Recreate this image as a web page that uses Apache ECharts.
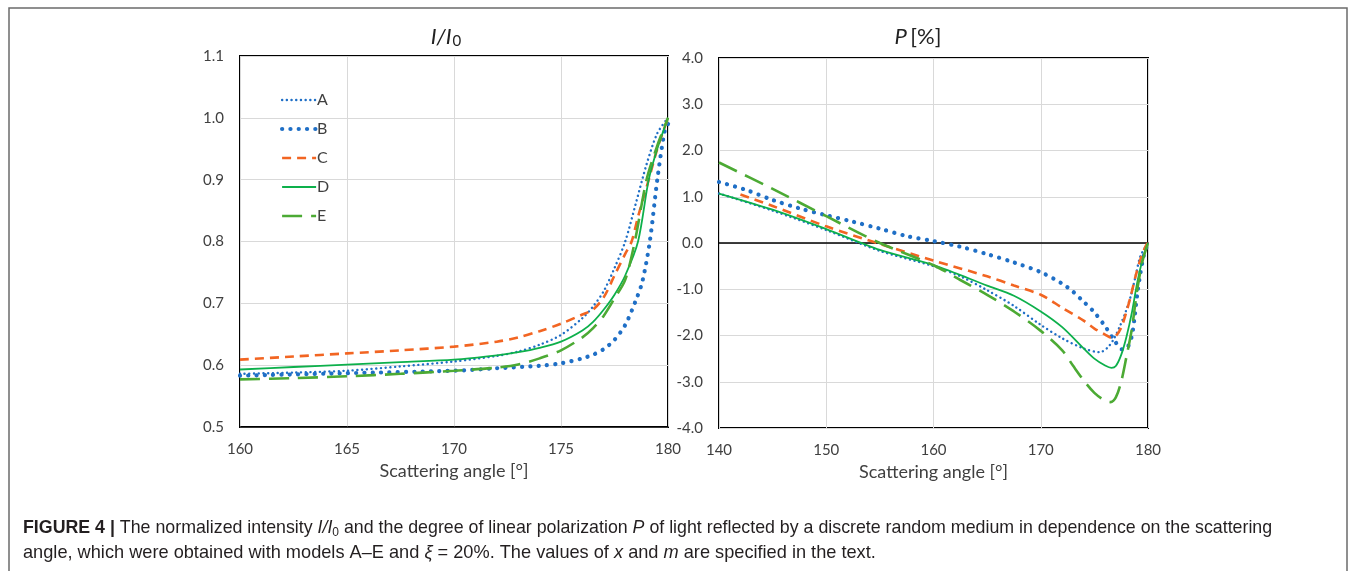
<!DOCTYPE html>
<html><head><meta charset="utf-8">
<script src="https://cdn.jsdelivr.net/npm/echarts@6/dist/echarts.min.js"></script>
<style>html,body{margin:0;padding:0;background:#fff}#c{width:1355px;height:571px}</style>
</head><body><div id="c"></div>
<script>
// ---- data ----
const seriesNames = ['A', 'B', 'C', 'D', 'E'];
const xTicksLeft = [160, 165, 170, 175, 180];
const xTicksRight = [140, 150, 160, 170, 180];

// Left panel: normalized intensity I/I0 vs scattering angle
const intA = [[160,0.586],[162.5,0.588],[165,0.591],[167.5,0.598],[170,0.606],[172,0.615],[173,0.622],[174,0.633],[175,0.649],[176,0.676],[176.5,0.695],[177,0.72],[177.5,0.757],[178,0.80],[178.5,0.862],[179,0.925],[179.5,0.975],[180,1.0]];
const intB = [[160,0.583],[165,0.587],[170,0.591],[172,0.595],[174,0.599],[175,0.603],[176,0.611],[176.5,0.617],[177,0.626],[177.5,0.641],[178,0.665],[178.5,0.705],[178.8,0.735],[179.15,0.80],[179.5,0.90],[179.85,0.98],[180,0.99]];
const intC = [[160,0.609],[162.5,0.614],[165,0.619],[167.5,0.624],[170,0.630],[172,0.638],[173,0.645],[174,0.655],[175,0.667],[176,0.682],[176.5,0.690],[177,0.710],[177.5,0.745],[178,0.78],[178.3,0.80],[178.6,0.84],[179.1,0.90],[179.5,0.95],[180,1.0]];
const intD = [[160,0.593],[162.5,0.597],[165,0.601],[167.5,0.605],[170,0.609],[172,0.616],[173,0.621],[174,0.628],[175,0.638],[176,0.656],[176.5,0.670],[177,0.690],[177.5,0.714],[178,0.745],[178.6,0.80],[179.1,0.90],[179.5,0.95],[180,1.0]];
const intE = [[160,0.577],[162.5,0.579],[165,0.582],[167.5,0.586],[170,0.591],[172,0.596],[173,0.601],[174,0.611],[175,0.624],[176,0.645],[176.5,0.660],[177,0.680],[177.5,0.708],[178,0.738],[178.45,0.80],[179,0.90],[179.5,0.955],[180,1.0]];

// Right panel: degree of linear polarization P [%]
const polA = [[140,1.07],[145,0.70],[150,0.28],[155,-0.17],[160,-0.50],[162.5,-0.72],[165,-1.02],[167.5,-1.36],[170,-1.77],[172,-2.06],[174,-2.28],[175.5,-2.36],[176.2,-2.27],[176.8,-2.08],[177.4,-1.79],[177.9,-1.50],[178.4,-1.14],[178.85,-0.71],[179.3,-0.28],[180,0]];
const polB = [[140,1.32],[142.5,1.15],[145,0.93],[147.5,0.75],[150,0.60],[152.5,0.46],[155,0.31],[157.5,0.15],[160,0.04],[162.5,-0.08],[165,-0.24],[167.5,-0.42],[170,-0.63],[172,-0.88],[173,-1.05],[174,-1.27],[175,-1.50],[176,-1.80],[176.8,-2.08],[177.6,-2.30],[178.1,-2.25],[178.5,-2.0],[178.75,-1.6],[179,-1.1],[179.3,-0.64],[179.6,-0.28],[180,0]];
const polC = [[142,1.05],[145,0.80],[150,0.36],[155,-0.02],[160,-0.38],[165,-0.72],[167.5,-0.92],[170,-1.12],[172,-1.40],[174,-1.68],[175,-1.85],[176,-1.98],[176.6,-2.05],[177,-2.01],[177.5,-1.83],[178,-1.48],[178.4,-1.14],[178.85,-0.71],[179.3,-0.35],[179.8,-0.06],[180,0]];
const polD = [[140,1.07],[145,0.72],[150,0.30],[155,-0.15],[160,-0.48],[165,-0.92],[167.5,-1.14],[170,-1.48],[172,-1.82],[174,-2.28],[175,-2.50],[176,-2.65],[176.6,-2.70],[177,-2.66],[177.5,-2.42],[178,-2.02],[178.5,-1.50],[179,-0.85],[179.5,-0.35],[180,0]];
const polE = [[140,1.74],[145,1.17],[150,0.58],[155,0.0],[160,-0.48],[162.5,-0.80],[165,-1.12],[167.5,-1.48],[170,-1.90],[172,-2.32],[173,-2.65],[174,-2.97],[175,-3.24],[176,-3.41],[176.5,-3.44],[177,-3.34],[177.5,-3.0],[178,-2.45],[178.5,-1.85],[179,-1.0],[179.5,-0.38],[180,0]];

// ---- styles ----
const styles = {
  A: {color:'#1F6FC6', width:2.4, type:[0.1,4.6], cap:'round'},
  B: {color:'#1F6FC6', width:4.2, type:[0.1,8.2], cap:'round'},
  C: {color:'#F26522', width:2.6, type:[9,6], cap:'butt'},
  D: {color:'#0DB04B', width:1.8, type:'solid', cap:'butt'},
  E: {color:'#4CAA34', width:2.6, type:[20,9], cap:'butt'}
};
const intData = {A:intA, B:intB, C:intC, D:intD, E:intE};
const polData = {A:polA, B:polB, C:polC, D:polD, E:polE};

const FONT = 'Lato, "Open Sans", sans-serif';
const CAP = '"Liberation Sans", Arial, sans-serif';
const labelColor = '#404040';

function mkSeries(name, data, idx) {
  const s = styles[name];
  return {
    name: name, type: 'line', data: data, xAxisIndex: idx, yAxisIndex: idx,
    showSymbol: false, symbol: 'none', smooth: 0.3,
    lineStyle: {color: s.color, width: s.width, type: s.type, cap: s.cap},
    itemStyle: {color: s.color},
    emphasis: {disabled: true}, animation: false
  };
}

const series = [];
seriesNames.forEach(n => series.push(mkSeries(n, intData[n], 0)));
seriesNames.forEach(n => series.push(mkSeries(n, polData[n], 1)));

function xAxis(idx, ticks) {
  return {
    type: 'value', gridIndex: idx, min: ticks[0], max: ticks[ticks.length-1],
    interval: ticks[1]-ticks[0],
    name: 'Scattering angle [°]', nameLocation: 'middle', nameGap: 33,
    nameTextStyle: {fontFamily: FONT, fontSize: 18, color: labelColor},
    axisLine: {show: true, onZero: true, lineStyle: {color: '#000', width: 1.5}},
    axisTick: {show: false},
    axisLabel: {fontFamily: FONT, fontSize: 15, color: labelColor, margin: 15},
    splitLine: {show: true, lineStyle: {color: '#d9d9d9', width: 1}}
  };
}
function yAxis(idx, min, max, interval) {
  return {
    type: 'value', gridIndex: idx, min: min, max: max, interval: interval,
    axisLine: {show: false}, axisTick: {show: false},
    axisLabel: {fontFamily: FONT, fontSize: 15, color: labelColor, margin: 16,
      formatter: v => v.toFixed(1)},
    splitLine: {show: true, lineStyle: {color: '#d9d9d9', width: 1}}
  };
}

const legendData = seriesNames.map(n => ({
  name: n,
  lineStyle: {color: styles[n].color, width: styles[n].width, type: styles[n].type, cap: styles[n].cap},
  itemStyle: {opacity: 0}
}));

const chart = echarts.init(document.getElementById('c'), null, {renderer: 'canvas'});
chart.setOption({
  animation: false,
  backgroundColor: '#fff',
  grid: [
    {left: 240, top: 56, width: 428, height: 371, show: true, borderColor: '#000', borderWidth: 2, backgroundColor: 'transparent'},
    {left: 719, top: 58, width: 429, height: 370, show: true, borderColor: '#000', borderWidth: 2, backgroundColor: 'transparent'}
  ],
  xAxis: [xAxis(0, xTicksLeft), xAxis(1, xTicksRight)],
  yAxis: [yAxis(0, 0.5, 1.1, 0.1), yAxis(1, -4, 4, 1)],
  legend: {
    data: legendData, orient: 'vertical', left: 280, top: 92, padding: 0,
    itemWidth: 34, itemHeight: 14, itemGap: 13,
    itemStyle: {opacity: 0},
    textStyle: {fontFamily: FONT, fontSize: 16, color: labelColor, padding: [0,0,0,-4]},
    selectedMode: false
  },
  graphic: [
    {type: 'rect', shape: {x: 9, y: 8, width: 1338, height: 600}, style: {fill: 'none', stroke: '#6b6b6b', lineWidth: 1.5}, silent: true},
    {type: 'text', x: 446, y: 37, style: {text: '{i|I/I}{s|0}', align: 'center', verticalAlign: 'middle',
      rich: {i: {fontFamily: FONT, fontStyle: 'italic', fontSize: 22, fill: '#222', lineHeight: 24},
             s: {fontFamily: FONT, fontSize: 15, fill: '#222', lineHeight: 24, verticalAlign: 'bottom', padding: [10,0,0,1]}}}},
    {type: 'text', x: 918, y: 37, style: {text: '{i|P} {n|[%]}', align: 'center', verticalAlign: 'middle',
      rich: {i: {fontFamily: FONT, fontStyle: 'italic', fontSize: 22, fill: '#222'},
             n: {fontFamily: FONT, fontSize: 22, fill: '#222'}}}},
    {type: 'text', x: 23, y: 528, style: {
      text: '{b|FIGURE 4 |} The normalized intensity {i|I/I}{s|0} and the degree of linear polarization {i|P} of light reflected by a discrete random medium in dependence on the scattering',
      verticalAlign: 'middle', font: '17.8px ' + CAP, fill: '#231f20',
      rich: {b: {fontWeight: 'bold', fontFamily: CAP, fontSize: 17.8, fill: '#231f20'},
             i: {fontStyle: 'italic', fontFamily: CAP, fontSize: 17.8, fill: '#231f20'},
             s: {fontFamily: CAP, fontSize: 12, fill: '#231f20', padding: [9,0,0,0]}}}},
    {type: 'text', x: 23, y: 553, style: {
      text: 'angle, which were obtained with models A–E and {i|ξ} = 20%. The values of {i|x} and {i|m} are specified in the text.',
      verticalAlign: 'middle', font: '18.2px ' + CAP, fill: '#231f20',
      rich: {i: {fontStyle: 'italic', fontFamily: CAP, fontSize: 18.2, fill: '#231f20'}}}}
  ],
  series: series
});
</script>
</body></html>
